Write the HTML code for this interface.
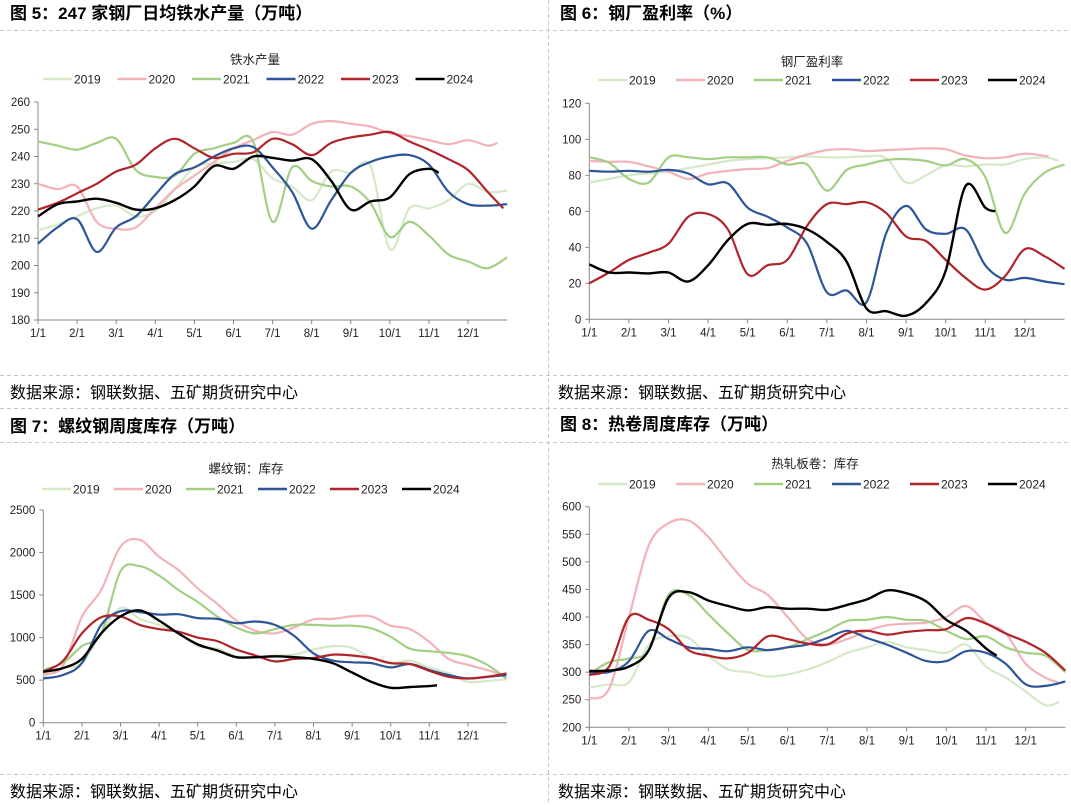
<!DOCTYPE html>
<html><head><meta charset="utf-8">
<style>
html,body{margin:0;padding:0;background:#fff;}
svg{display:block;font-family:"Liberation Sans","Noto Sans CJK SC",sans-serif;}
.ttl{font-size:17px;font-weight:bold;fill:#000;}
.src{font-size:16px;fill:#000;}
.tick{font-size:11.5px;fill:#222;}
.leg{font-size:12px;fill:#222;}
.ct{font-size:12.5px;fill:#222;}
</style></head>
<body>
<svg id="root" width="1071" height="805" viewBox="0 0 1071 805">
<g stroke="#c8c8c8" stroke-dasharray="4,3" stroke-width="1">
<line x1="0" y1="30.5" x2="1071" y2="30.5"/>
<line x1="0" y1="375.5" x2="1071" y2="375.5"/>
<line x1="0" y1="408.5" x2="1071" y2="408.5"/>
<line x1="0" y1="442.5" x2="1071" y2="442.5"/>
<line x1="0" y1="774.5" x2="1071" y2="774.5"/>
<line x1="548.5" y1="0" x2="548.5" y2="805"/>
</g>
<text class="ttl" x="10" y="19">图 5：247 家钢厂日均铁水产量（万吨）</text>
<text class="ttl" x="560" y="19">图 6：钢厂盈利率（%）</text>
<text class="ttl" x="10" y="432">图 7：螺纹钢周度库存（万吨）</text>
<text class="ttl" x="560" y="430">图 8：热卷周度库存（万吨）</text>
<text class="src" x="10" y="398">数据来源：钢联数据、五矿期货研究中心</text>
<text class="src" x="558" y="398">数据来源：钢联数据、五矿期货研究中心</text>
<text class="src" x="10" y="797">数据来源：钢联数据、五矿期货研究中心</text>
<text class="src" x="558" y="797">数据来源：钢联数据、五矿期货研究中心</text>
</svg>
<script>
// shared
const years = ["2019","2020","2021","2022","2023","2024"];
const colors = ["#d5e8c8","#f2b2b8","#a3cf84","#2e5597","#b0252a","#000000"];
const monthLabels = ["1/1","2/1","3/1","4/1","5/1","6/1","7/1","8/1","9/1","10/1","11/1","12/1"];

// Chart 1: 铁水产量 (values every half month)
const c1Ticks = [180,190,200,210,220,230,240,250,260];
const c1y2019 = [213,215,218,221,222,218,220,228,236,237.5,238,239,232,229,224,234.5,234,236.5,206,221,221,224,230,227,227.5];
const c1y2020 = [230,228,229,216,213.5,214,221,228,233,238,243,246,249,248,252,253,252,251,248.5,247.5,246,244.5,246,244,245];
const c1y2021 = [245.5,244,242.5,245,246.5,235,232.5,233,241,243,245,245.5,216,236,231,229,229,223,210.5,216,211,204,201.5,199,203];
const c1y2022 = [208,214,217,205,214,218,226,233.5,236,240,243,243.5,236,227,213.5,224,234,238,240,240.5,237,227,222.5,222,222.5];
const c1y2023 = [220.5,223,226.5,230,234.5,237,243,246.5,243,239.5,241,241.5,246.5,244.5,240.5,245,247,248,249,245.5,242.5,239,235,227,221];
const c1y2024 = [218,222.5,223.5,224.5,223,220.5,221,224,229,236.5,235.5,240,239.5,238.5,239,231,220.5,223.5,225,233.5,235.5,234];
const c1End = [12,11.75,12,12,11.9,10.25];

// Chart 2: 钢厂盈利率
const c2Ticks = [0,20,40,60,80,100,120];
const c2y2019 = [76,78,80,81,82,84,86,88,89,89.5,90,90.5,90,90,90.5,89.5,76,80,85.5,85,86,86,89,90,88];
const c2y2020 = [88,87.5,87.5,85,82,78,81,82.5,83.5,84,88,91.5,94,94.5,93.5,94,94.5,95,94.5,91,89.5,90,92,90.5];
const c2y2021 = [90,87,78,76,90,90,89,90,90,90,86,86,71.5,83,86,88.5,89,88,85.5,89,79,48,70,81.5,86];
const c2y2022 = [82.5,82,82.5,82,83,81,75,75.5,62,57,51,42,15,16,9.5,48,63,50,47.5,50,30,22,23,21,19.5];
const c2y2023 = [20,26,33,37,42,57,58.5,50,25,30,33,52,64,64,65,59,46,43.5,33,23,16.5,24,39,35,28];
const c2y2024 = [30.5,26,26,25.5,26,21,30,44,53,52.5,53,50,43,32,6,4.5,2,9,27,74,62,60];
const c2End = [11.85,11.6,12,12,12,10.25];

// Chart 3: 螺纹钢库存
const c3Ticks = [0,500,1000,1500,2000,2500];
const c3y2019 = [540,640,700,1050,1350,1220,1150,1050,900,870,780,770,790,800,860,900,880,760,700,730,650,580,480,490,510];
const c3y2020 = [570,660,1245,1560,2070,2150,1950,1795,1580,1400,1200,1080,1050,1120,1215,1220,1250,1250,1140,1100,950,750,680,620,560];
const c3y2021 = [620,700,900,1050,1780,1840,1730,1560,1420,1250,1120,1050,1100,1150,1150,1140,1140,1110,1010,870,840,820,780,680,520];
const c3y2022 = [520,560,700,1150,1310,1300,1270,1275,1230,1220,1170,1190,1150,1020,815,730,710,700,650,690,620,560,520,540,560];
const c3y2023 = [600,720,1050,1240,1250,1150,1100,1070,1000,960,860,790,720,750,760,800,790,760,700,690,610,540,520,540,580];
const c3y2024 = [600,640,750,1050,1250,1320,1200,1050,920,850,770,770,780,770,750,700,590,480,410,420,430,440];
const c3End = [12,11.9,12,12,12,10.2];

// Chart 4: 热轧板卷库存
const c4Ticks = [200,250,300,350,400,450,500,550,600];
const c4y2019 = [272,278,282,350,365,362,330,305,300,292,296,305,318,335,345,355,345,340,335,350,310,290,265,240,246];
const c4y2020 = [252,270,400,530,570,575,545,500,460,440,400,360,350,360,375,385,388,390,400,420,390,370,315,290,282];
const c4y2021 = [297,318,325,340,440,440,405,370,340,340,345,360,375,393,395,400,395,393,375,360,365,345,335,330,300];
const c4y2022 = [300,300,320,375,360,345,342,338,345,340,345,350,362,375,362,350,335,320,320,338,335,315,278,275,283];
const c4y2023 = [295,310,400,395,378,340,330,325,335,365,360,352,350,370,375,368,373,376,378,398,388,370,355,335,303];
const c4y2024 = [302,303,310,340,435,445,430,420,412,418,415,415,413,422,432,448,443,428,395,375,343,330];
const c4End = [11.85,11.8,12,12,12,10.27];

const NS = "http://www.w3.org/2000/svg";
const root = document.getElementById("root");
function mk(tag, attrs, parent){
  const e = document.createElementNS(NS, tag);
  for (const k in attrs) e.setAttribute(k, attrs[k]);
  (parent||root).appendChild(e);
  return e;
}
function smoothPath(pts){
  let d = "M" + pts[0][0].toFixed(1) + "," + pts[0][1].toFixed(1);
  for (let i=0;i<pts.length-1;i++){
    const p0 = pts[Math.max(0,i-1)], p1 = pts[i], p2 = pts[i+1], p3 = pts[Math.min(pts.length-1,i+2)];
    const c1x = p1[0] + (p2[0]-p0[0])/6, c1y = p1[1] + (p2[1]-p0[1])/6;
    const c2x = p2[0] - (p3[0]-p1[0])/6, c2y = p2[1] - (p3[1]-p1[1])/6;
    d += " C" + c1x.toFixed(1)+","+c1y.toFixed(1)+" "+c2x.toFixed(1)+","+c2y.toFixed(1)+" "+p2[0].toFixed(1)+","+p2[1].toFixed(1);
  }
  return d;
}
function drawChart(cfg){
  const g = mk("g", {});
  
  
  const xs = m => cfg.x0 + m*cfg.unit;
  const vmin = cfg.ticks[0], vmax = cfg.ticks[cfg.ticks.length-1];
  const ys = v => cfg.yBot - (v - vmin)/(vmax - vmin)*(cfg.yBot - cfg.yTop);
  // chart title
  const ct = mk("text", {x: cfg.titleX, y: cfg.titleY, "class":"ct", "text-anchor":"middle"}, g);
  ct.textContent = cfg.title;
  
  
  // legend
  years.forEach((yr,i)=>{
    const lg = mk("g", {}, g);
    
    
    const lx = cfg.legX + i*cfg.legStep;
    mk("line", {x1:lx, y1:cfg.legY, x2:lx+29, y2:cfg.legY, stroke:colors[i], "stroke-width":2.5}, lg);
    const t = mk("text", {x:lx+31, y:cfg.legY+4.5, "class":"leg"}, lg);
    t.textContent = yr;
  });
  // axes
  const ax = mk("g", {}, g);
  
  
  mk("line", {x1:cfg.x0, y1:cfg.yTop, x2:cfg.x0, y2:cfg.yBot, stroke:"#888", "stroke-width":1}, ax);
  cfg.ticks.forEach(v=>{
    const y = ys(v);
    mk("line", {x1:cfg.x0-4, y1:y, x2:cfg.x0, y2:y, stroke:"#888"}, ax);
    const t = mk("text", {x:cfg.x0-8, y:y+4, "class":"tick", "text-anchor":"end"}, ax);
    t.textContent = v;
  });
  const bx = mk("g", {}, g);
  
  
  mk("line", {x1:cfg.x0, y1:cfg.yBot, x2:xs(12), y2:cfg.yBot, stroke:"#888"}, bx);
  monthLabels.forEach((lab,i)=>{
    const x = xs(i);
    mk("line", {x1:x, y1:cfg.yBot, x2:x, y2:cfg.yBot+4, stroke:"#888"}, bx);
    const t = mk("text", {x:x, y:cfg.yBot+17, "class":"tick", "text-anchor":"middle"}, bx);
    t.textContent = lab;
  });
  // series
  cfg.series.forEach((vals,i)=>{
    const pts = vals.map((v,k)=>{
      let m = k*0.5;
      if (k === vals.length-1) m = cfg.ends[i];
      return [xs(m), ys(v)];
    });
    const p = mk("path", {d: smoothPath(pts), fill:"none", stroke:colors[i], "stroke-width": i===5?2.4:2.2, "stroke-linejoin":"round"}, g);
    
    
  });
}
drawChart({name:"iron-output-chart", title:"铁水产量", titleX:255, titleY:64, legX:43, legY:79, legStep:74.5,
  x0:38, unit:39.1, yTop:102, yBot:320, ticks:c1Ticks, ends:c1End,
  series:[c1y2019,c1y2020,c1y2021,c1y2022,c1y2023,c1y2024]});
drawChart({name:"mill-profit-chart", title:"钢厂盈利率", titleX:812, titleY:66, legX:598, legY:80, legStep:78,
  x0:589.3, unit:39.6, yTop:103.3, yBot:319.3, ticks:c2Ticks, ends:c2End,
  series:[c2y2019,c2y2020,c2y2021,c2y2022,c2y2023,c2y2024]});
drawChart({name:"rebar-inventory-chart", title:"螺纹钢：库存", titleX:246, titleY:473, legX:42, legY:489, legStep:72,
  x0:43.3, unit:38.6, yTop:510, yBot:722.7, ticks:c3Ticks, ends:c3End,
  series:[c3y2019,c3y2020,c3y2021,c3y2022,c3y2023,c3y2024]});
drawChart({name:"hot-coil-inventory-chart", title:"热轧板卷：库存", titleX:815, titleY:468, legX:598, legY:484, legStep:78,
  x0:589.3, unit:39.67, yTop:506.7, yBot:727.3, ticks:c4Ticks, ends:c4End,
  series:[c4y2019,c4y2020,c4y2021,c4y2022,c4y2023,c4y2024]});
</script>
</body></html>
